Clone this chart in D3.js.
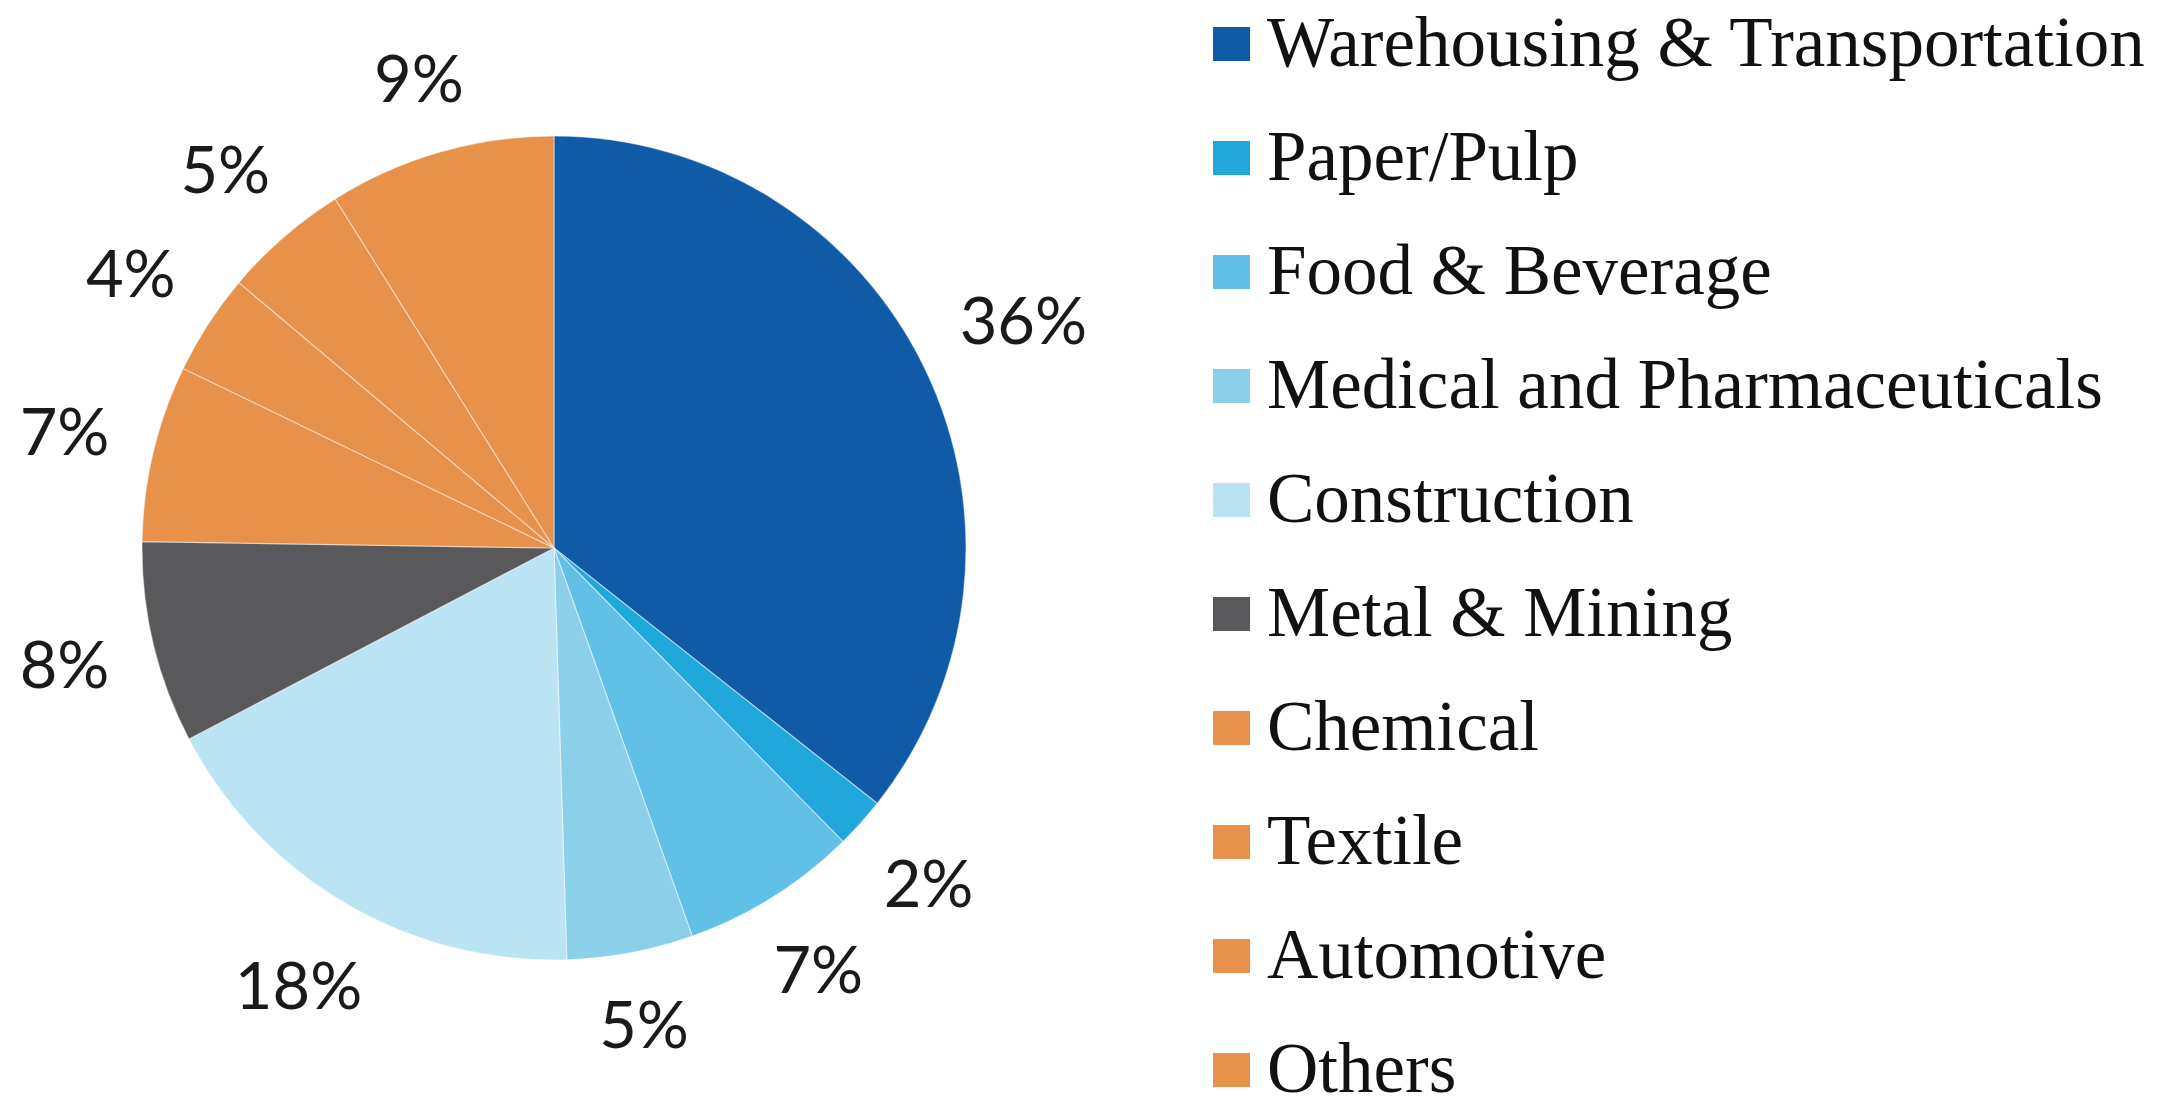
<!DOCTYPE html>
<html>
<head>
<meta charset="utf-8">
<script src="https://cdn.jsdelivr.net/npm/d3@7"></script>
<style>
  html, body { margin: 0; padding: 0; background: #ffffff; }
  svg { display: block; }
</style>
</head>
<body>
<svg id="chart" width="2166" height="1107"></svg>
<script>
// Industry shares (%), clockwise from 12 o'clock
const categories = [
  "Warehousing & Transportation",
  "Paper/Pulp",
  "Food & Beverage",
  "Medical and Pharmaceuticals",
  "Construction",
  "Metal & Mining",
  "Chemical",
  "Textile",
  "Automotive",
  "Others"
];
const shares = [36, 2, 7, 5, 18, 8, 7, 4, 5, 9];
const colors = [
  "#0f5ba7", "#20a8dc", "#60c0e5", "#8ccfeb", "#bae3f3",
  "#59595c", "#e8914a", "#e8914a", "#e8914a", "#e8914a"
];

const svg = d3.select("#chart");
const cx = 554, cy = 548, radius = 412;

const data = categories.map((c, i) => ({ name: c, value: shares[i], color: colors[i] }));

const pie = d3.pie().value(d => d.value).sort(null);
const arcs = pie(data);
const arc = d3.arc().innerRadius(0).outerRadius(radius);

const g = svg.append("g").attr("transform", `translate(${cx},${cy})`);

g.selectAll("path.slice")
  .data(arcs)
  .enter().append("path")
  .attr("class", "slice")
  .attr("d", arc)
  .attr("fill", d => d.data.color)
  .attr("stroke", "#ffffff")
  .attr("stroke-opacity", 0.45)
  .attr("stroke-width", 1.2);

// Percentage labels placed just outside the rim along each slice's mid-angle
const labelSize = 65;
const gap = 42;
const labels = g.selectAll("text.pct")
  .data(arcs)
  .enter().append("text")
  .attr("class", "pct")
  .attr("text-anchor", "middle")
  .attr("font-family", "Lato, 'Open Sans', sans-serif")
  .attr("font-size", labelSize)
  .attr("fill", "#1a1a1a")
  .text(d => d.data.value + "%");

labels.each(function(d) {
  const bb = this.getBBox();
  const capH = labelSize * 0.72;
  const mid = (d.startAngle + d.endAngle) / 2;
  const sx = Math.sin(mid), sy = -Math.cos(mid);
  const dist = radius + gap + Math.abs(sx) * bb.width / 2 + Math.abs(sy) * capH / 2;
  d3.select(this)
    .attr("x", sx * dist)
    .attr("y", sy * dist + capH / 2);
});

// Legend
const legend = svg.append("g").attr("class", "legend");
const rowStep = 114;
const legendX = 1213, textX = 1267, firstBaseline = 66;

const rows = legend.selectAll("g.row")
  .data(data)
  .enter().append("g")
  .attr("class", "row")
  .attr("transform", (d, i) => `translate(0,${firstBaseline + i * rowStep})`);

rows.append("rect")
  .attr("x", legendX)
  .attr("y", -39)
  .attr("width", 37)
  .attr("height", 34)
  .attr("fill", d => d.color);

rows.append("text")
  .attr("x", textX)
  .attr("y", 0)
  .attr("font-family", "'Liberation Serif', 'Times New Roman', serif")
  .attr("font-size", 71)
  .attr("fill", "#111111")
  .text(d => d.name);
</script>
</body>
</html>
